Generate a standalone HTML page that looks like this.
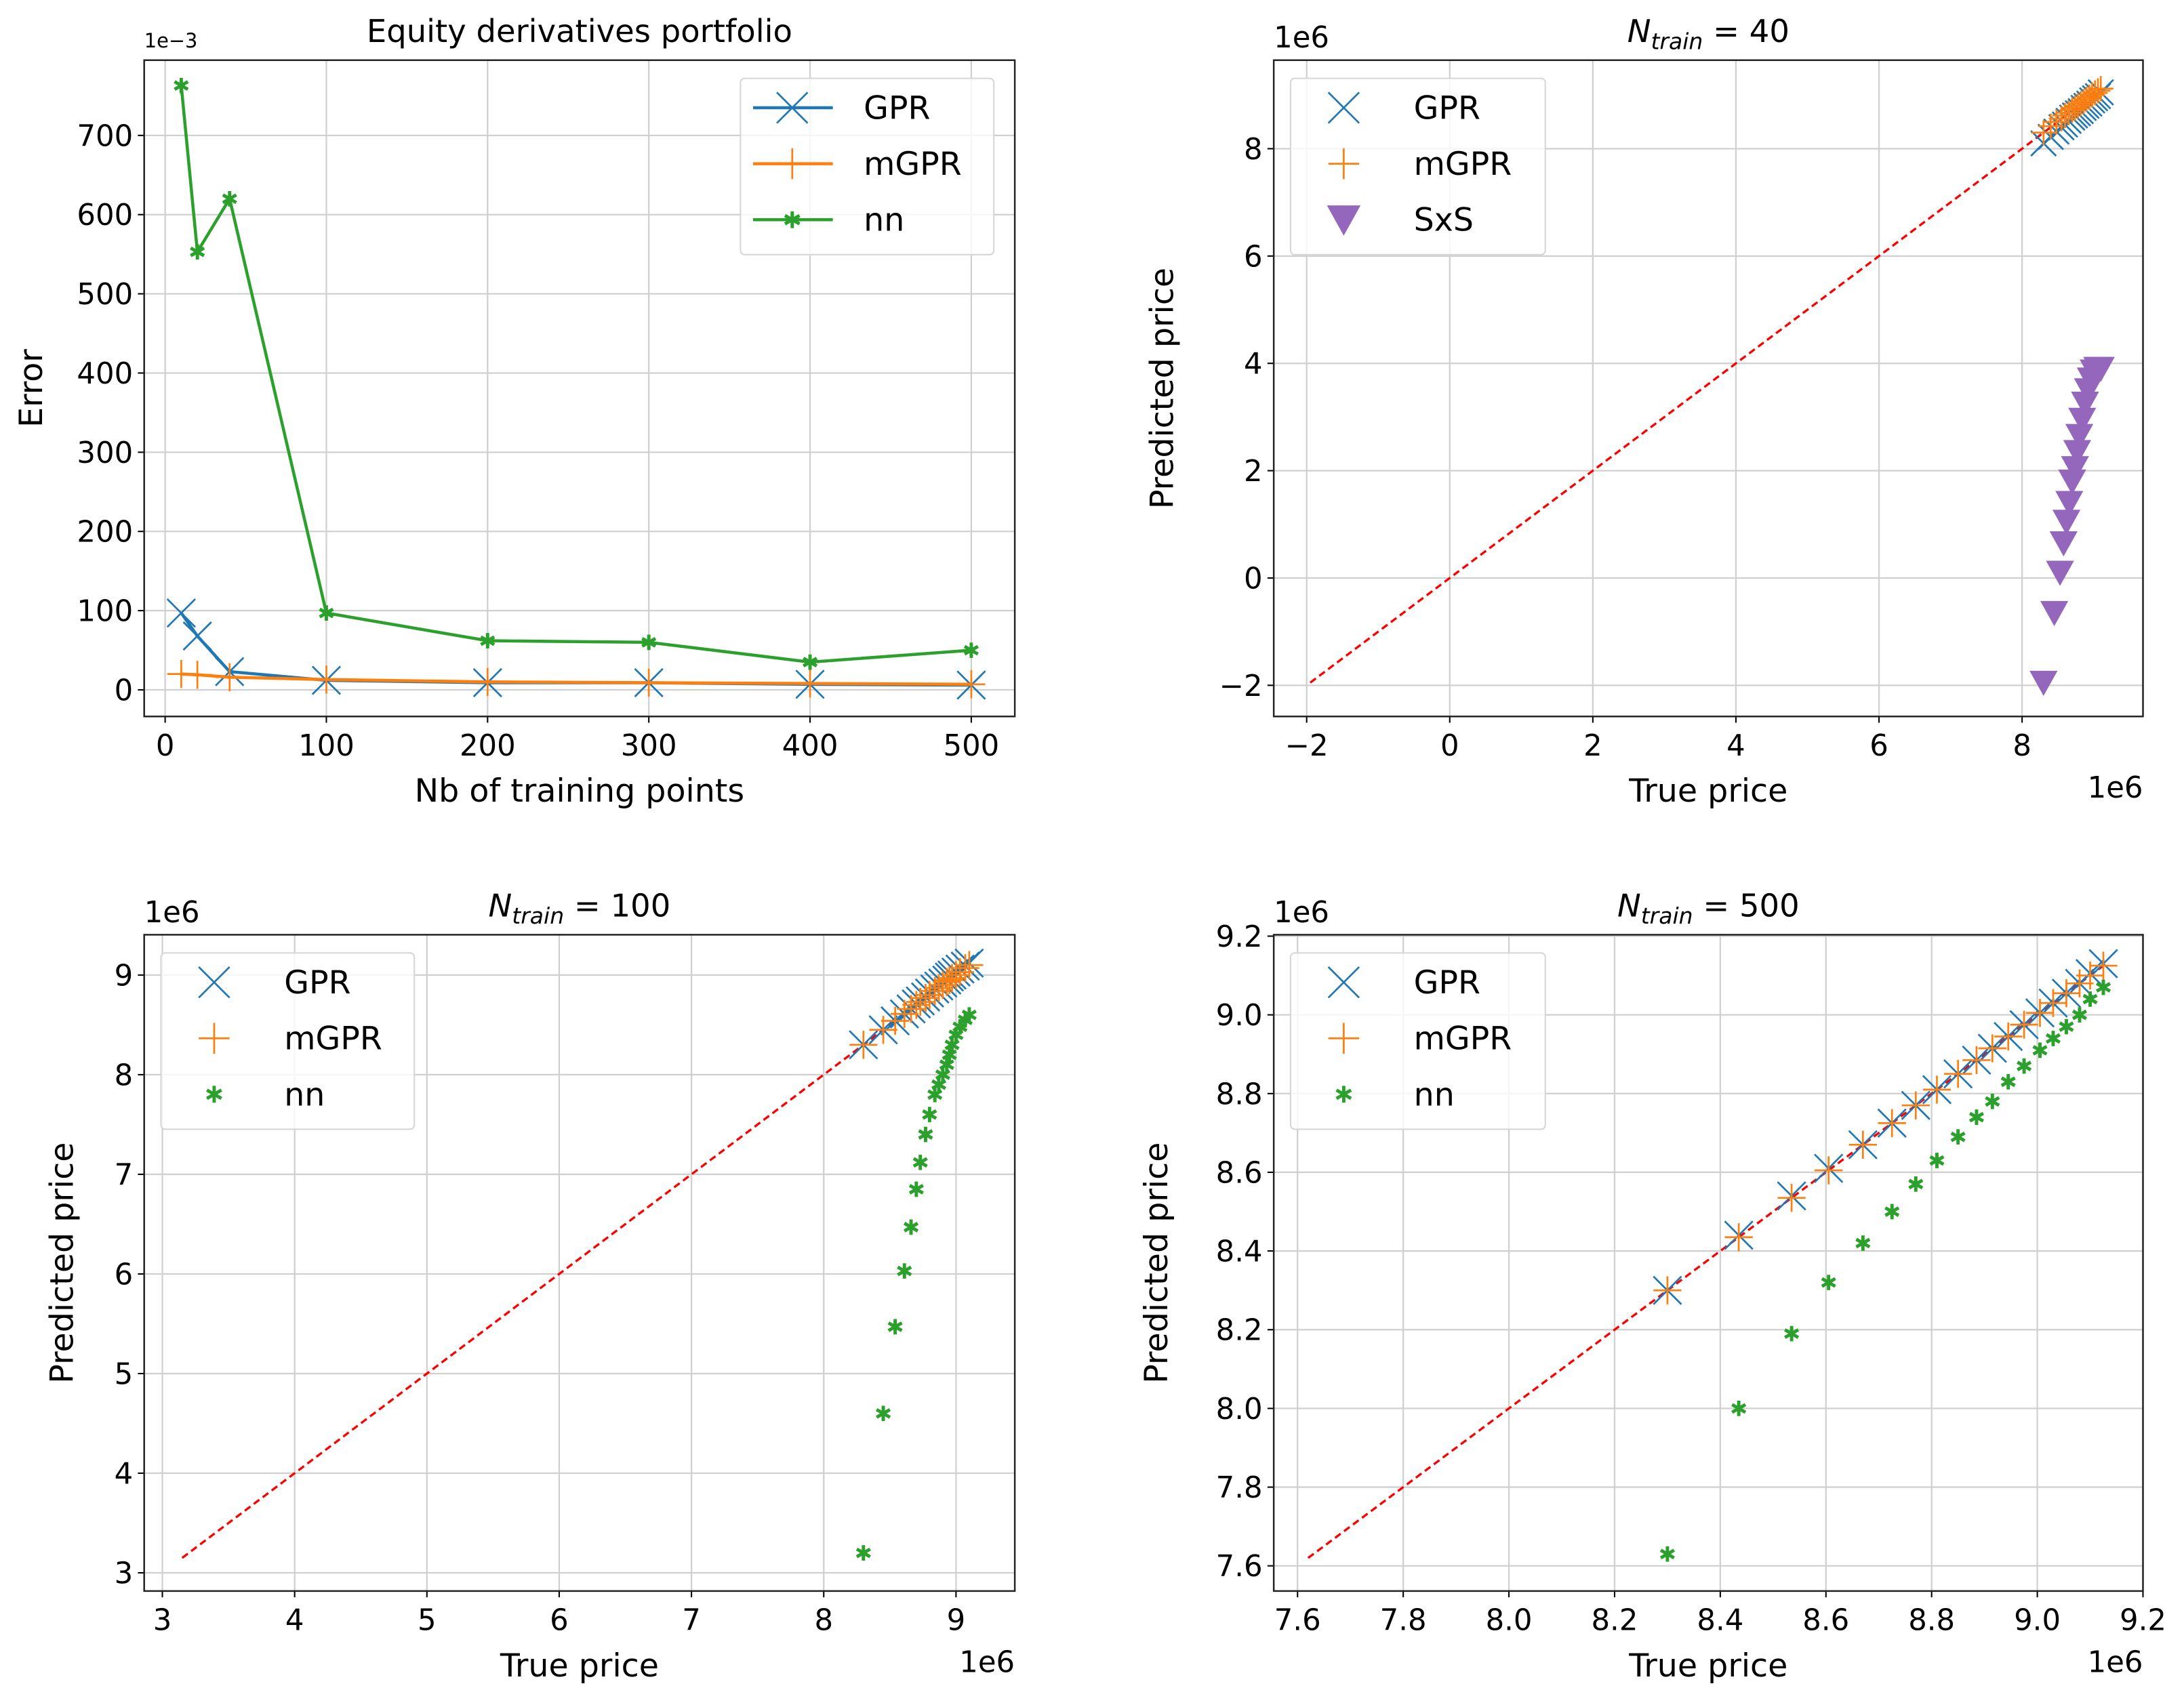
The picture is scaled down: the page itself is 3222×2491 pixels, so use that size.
<!DOCTYPE html>
<html><head><meta charset="utf-8"><style>
html,body{margin:0;padding:0;background:#fff;}
svg{display:block;}
text{font-family:"DejaVu Sans","Liberation Sans",sans-serif;fill:#000;}
</style></head><body>
<svg id="fig" xmlns="http://www.w3.org/2000/svg" width="3222" height="2491" viewBox="0 0 1560.3 1206.3"></svg>
<script>
// ---- Panel 1 data ----
const p1X = [10, 20, 40, 100, 200, 300, 400, 500];
const p1GPR = [97, 68, 23, 12, 9, 9, 7, 6];
const p1mGPR = [20, 19, 16, 13, 10, 9, 8, 7];
const p1NN = [763, 553, 620, 97, 62, 60, 35, 50];
const p1XTicks = [0, 100, 200, 300, 400, 500];
const p1YTicks = [0, 100, 200, 300, 400, 500, 600, 700];
// ---- Panel 2 data (N=40) ----
const p2True = [8.30, 8.40, 8.48, 8.55, 8.60, 8.65, 8.70, 8.74, 8.78, 8.82, 8.86, 8.90, 8.94, 8.98, 9.02, 9.06, 9.10];
const p2GPR = [8.10, 8.22, 8.32, 8.40, 8.45, 8.52, 8.58, 8.62, 8.66, 8.70, 8.76, 8.80, 8.84, 8.90, 8.94, 8.98, 9.05];
const p2mGPR = [8.30, 8.42, 8.50, 8.56, 8.62, 8.67, 8.72, 8.76, 8.80, 8.84, 8.88, 8.92, 8.96, 9.00, 9.04, 9.08, 9.12];
const p2SxSX = [8.30, 8.45, 8.53, 8.58, 8.62, 8.66, 8.70, 8.74, 8.77, 8.80, 8.84, 8.88, 8.92, 8.96, 9.00, 9.05, 9.10];
const p2SxSY = [-1.95, -0.65, 0.10, 0.65, 1.05, 1.40, 1.80, 2.05, 2.35, 2.65, 2.95, 3.25, 3.50, 3.70, 3.85, 3.90, 3.90];
const p2Ticks = [-2, 0, 2, 4, 6, 8];
// ---- Panel 3 data (N=100) ----
const p3True = [8.30, 8.45, 8.54, 8.61, 8.66, 8.70, 8.73, 8.77, 8.80, 8.84, 8.87, 8.90, 8.93, 8.95, 8.97, 9.00, 9.03, 9.07, 9.10];
const p3GPR = [8.30, 8.45, 8.54, 8.61, 8.66, 8.71, 8.74, 8.78, 8.82, 8.86, 8.89, 8.92, 8.95, 8.98, 9.00, 9.03, 9.06, 9.09, 9.12];
const p3mGPR = [8.30, 8.45, 8.54, 8.61, 8.66, 8.70, 8.73, 8.77, 8.80, 8.84, 8.87, 8.90, 8.93, 8.95, 8.97, 9.00, 9.03, 9.07, 9.10];
const p3NN = [3.20, 4.60, 5.47, 6.03, 6.47, 6.85, 7.12, 7.40, 7.60, 7.80, 7.90, 8.00, 8.10, 8.20, 8.30, 8.40, 8.48, 8.55, 8.60];
const p3Ticks = [3, 4, 5, 6, 7, 8, 9];
// ---- Panel 4 data (N=500) ----
const p4True = [8.30, 8.435, 8.535, 8.605, 8.67, 8.725, 8.77, 8.81, 8.85, 8.885, 8.915, 8.945, 8.975, 9.005, 9.03, 9.055, 9.08, 9.10, 9.125];
const p4GPR = [8.30, 8.44, 8.54, 8.61, 8.67, 8.725, 8.77, 8.81, 8.85, 8.885, 8.915, 8.945, 8.975, 9.005, 9.03, 9.055, 9.08, 9.105, 9.13];
const p4mGPR = [8.30, 8.435, 8.535, 8.605, 8.67, 8.725, 8.77, 8.81, 8.85, 8.885, 8.915, 8.945, 8.975, 9.005, 9.03, 9.055, 9.08, 9.10, 9.125];
const p4NN = [7.63, 8.00, 8.19, 8.32, 8.42, 8.50, 8.57, 8.63, 8.69, 8.74, 8.78, 8.83, 8.87, 8.91, 8.94, 8.97, 9.00, 9.04, 9.07];
const p4Ticks = [7.6, 7.8, 8.0, 8.2, 8.4, 8.6, 8.8, 9.0, 9.2];

const NS = "http://www.w3.org/2000/svg";
const fig = document.getElementById('fig');
const BLUE = '#1f77b4', ORANGE = '#ff7f0e', GREEN = '#2ca02c', PURPLE = '#9467bd';

function mk(tag, attrs, parent) {
  const e = document.createElementNS(NS, tag);
  for (const k in attrs) e.setAttribute(k, attrs[k]);
  (parent || fig).appendChild(e);
  return e;
}
function txt(s, x, y, size, anchor, parent, extra) {
  const t = mk('text', Object.assign({x: x, y: y, 'font-size': size, 'text-anchor': anchor || 'middle'}, extra || {}), parent);
  t.textContent = s;
  return t;
}
function fmt(v, dec) {
  return v.toFixed(dec || 0).replace('-', '\u2212');
}
function marker(g, type, cx, cy, color, s) {
  if (type === 'x') {
    mk('path', {d: `M${cx-s},${cy-s}L${cx+s},${cy+s}M${cx-s},${cy+s}L${cx+s},${cy-s}`, stroke: color, 'stroke-width': 1.3, fill: 'none'}, g);
  } else if (type === '+') {
    mk('path', {d: `M${cx-s},${cy}L${cx+s},${cy}M${cx},${cy-s}L${cx},${cy+s}`, stroke: color, 'stroke-width': 1.3, fill: 'none'}, g);
  } else if (type === '*') {
    let d = '';
    for (let i = 0; i < 3; i++) {
      const a = Math.PI / 2 + i * Math.PI / 3;
      d += `M${cx - s*Math.cos(a)},${cy - s*Math.sin(a)}L${cx + s*Math.cos(a)},${cy + s*Math.sin(a)}`;
    }
    mk('path', {d: d, stroke: color, 'stroke-width': 2.4, fill: 'none'}, g);
  } else if (type === 'v') {
    mk('path', {d: `M${cx-s},${cy-s*0.85}L${cx+s},${cy-s*0.85}L${cx},${cy+s*0.95}Z`, fill: color}, g);
  }
}

function panel(cfg) {
  const g = mk('g', {});
  
  
  const L = cfg.L, R = cfg.R, T = cfg.T, B = cfg.B;
  const sx = v => L + (v - cfg.xmin) / (cfg.xmax - cfg.xmin) * (R - L);
  const sy = v => B - (v - cfg.ymin) / (cfg.ymax - cfg.ymin) * (B - T);
  const grid = mk('g', {}, g);
  
  
  cfg.xticks.forEach(v => mk('line', {x1: sx(v), x2: sx(v), y1: T, y2: B, stroke: '#d0d0d0', 'stroke-width': 1.1}, grid));
  cfg.yticks.forEach(v => mk('line', {x1: L, x2: R, y1: sy(v), y2: sy(v), stroke: '#d0d0d0', 'stroke-width': 1.1}, grid));
  const xt = mk('g', {}, g);
  
  
  cfg.xticks.forEach(v => {
    mk('line', {x1: sx(v), x2: sx(v), y1: B, y2: B + 4.5, stroke: '#000', 'stroke-width': 1}, xt);
    txt(fmt(v, cfg.dec), sx(v), B + 28, 21, 'middle', xt);
  });
  const yt = mk('g', {}, g);
  
  
  cfg.yticks.forEach(v => {
    mk('line', {x1: L - 4.5, x2: L, y1: sy(v), y2: sy(v), stroke: '#000', 'stroke-width': 1}, yt);
    txt(fmt(v, cfg.dec), L - 8, sy(v) + 7.5, 21, 'end', yt);
  });
  const cid = 'clip-' + cfg.name;
  const cp = mk('clipPath', {id: cid}, g);
  mk('rect', {x: L, y: T, width: R - L, height: B - T}, cp);
  const plot = mk('g', {'clip-path': `url(#${cid})`}, g);
  
  
  cfg.draw(plot, sx, sy);
  const fr = mk('rect', {x: L, y: T, width: R - L, height: B - T, fill: 'none', stroke: '#222', 'stroke-width': 1.2}, g);
  
  
  const tt = mk('text', {x: (L + R) / 2, y: T - 13, 'font-size': 22.5, 'text-anchor': 'middle'}, g);
  
  
  if (cfg.ntrain) {
    const a = mk('tspan', {'font-style': 'italic'}, tt); a.textContent = 'N';
    const b = mk('tspan', {'font-style': 'italic', 'font-size': 16, dy: 5}, tt); b.textContent = 'train';
    const c = mk('tspan', {dy: -5}, tt); c.textContent = ' = ' + cfg.ntrain;
  } else tt.textContent = cfg.title;
  const xl = txt(cfg.xlabel, (L + R) / 2, B + 61, 23, 'middle', g);
  
  
  const ylx = cfg.ylx, yly = (T + B) / 2;
  const yl = txt(cfg.ylabel, ylx, yly, 23, 'middle', g, {transform: `rotate(-90 ${ylx} ${yly})`});
  
  
  const oy = txt(cfg.yoff, L, T - 9, cfg.yoffSize, 'start', g);
  
  
  if (cfg.xoff) {
    const ox = txt(cfg.xoff, R, B + 58, 21, 'end', g);
    
    
  }
  const lg = mk('g', {}, g);
  
  
  const lx = cfg.legX, ly = T + 13;
  mk('rect', {x: lx, y: ly, width: cfg.legW, height: 126, rx: 3, fill: '#fff', 'fill-opacity': 0.8, stroke: '#d6d6d6', 'stroke-width': 1}, lg);
  cfg.legend.forEach((e, i) => {
    const ent = mk('g', {}, lg);
    
    
    const yy = ly + 21 + i * 40;
    if (cfg.legLine) {
      mk('line', {x1: lx + 9, x2: lx + 66, y1: yy, y2: yy, stroke: e.c, 'stroke-width': 2.2}, ent);
      marker(ent, e.m, lx + 37, yy, e.c, e.m === '*' ? 6 : 11);
    } else {
      marker(ent, e.m, lx + 38, yy, e.c, e.m === '*' ? 6 : (e.m === 'v' ? 12 : 11));
    }
    txt(e.t, lx + 88, yy + 8, 23, 'start', ent);
  });
}

function scatter(plot, xs, ys, type, color, size, sx, sy, name) {
  const g = mk('g', {}, plot);
  
  
  xs.forEach((x, i) => marker(g, type, sx(x), sy(ys[i]), color, size));
}
function diag(plot, a, b, sx, sy) {
  const l = mk('line', {x1: sx(a), y1: sy(a), x2: sx(b), y2: sy(b), stroke: '#ff0000', 'stroke-width': 1.6, 'stroke-dasharray': '5,3'}, plot);
  
  
}

panel({name: 'error-panel', L: 103, R: 725, T: 43, B: 512, xmin: -13, xmax: 527, ymin: -33.6, ymax: 795, dec: 0,
  xticks: p1XTicks, yticks: p1YTicks, title: 'Equity derivatives portfolio', xlabel: 'Nb of training points', ylabel: 'Error',
  ylx: 30, yoff: '1e\u22123', yoffSize: 14, legX: 529, legW: 181, legLine: true,
  legend: [{t: 'GPR', m: 'x', c: BLUE}, {t: 'mGPR', m: '+', c: ORANGE}, {t: 'nn', m: '*', c: GREEN}],
  draw: (p, sx, sy) => {
    [[p1GPR, BLUE, 'x', 'gpr-series', 10], [p1mGPR, ORANGE, '+', 'mgpr-series', 10], [p1NN, GREEN, '*', 'nn-series', 5.5]].forEach(s => {
      const g = mk('g', {}, p);
      
      
      mk('polyline', {points: p1X.map((x, i) => sx(x) + ',' + sy(s[0][i])).join(' '), fill: 'none', stroke: s[1], 'stroke-width': 2.2}, g);
      p1X.forEach((x, i) => marker(g, s[2], sx(x), sy(s[0][i]), s[1], s[4]));
    });
  }});

panel({name: 'ntrain-40-panel', L: 910, R: 1531, T: 43, B: 512, xmin: -2.46, xmax: 9.69, ymin: -2.58, ymax: 9.65, dec: 0,
  xticks: p2Ticks, yticks: p2Ticks, ntrain: 40, xlabel: 'True price', ylabel: 'Predicted price',
  ylx: 838, yoff: '1e6', yoffSize: 21, xoff: '1e6', legX: 922, legW: 182, legLine: false,
  legend: [{t: 'GPR', m: 'x', c: BLUE}, {t: 'mGPR', m: '+', c: ORANGE}, {t: 'SxS', m: 'v', c: PURPLE}],
  draw: (p, sx, sy) => {
    diag(p, -1.95, 9.1, sx, sy);
    scatter(p, p2True, p2GPR, 'x', BLUE, 9, sx, sy, 'gpr-points');
    scatter(p, p2True, p2mGPR, '+', ORANGE, 9, sx, sy, 'mgpr-points');
    scatter(p, p2SxSX, p2SxSY, 'v', PURPLE, 10, sx, sy, 'sxs-points');
  }});

panel({name: 'ntrain-100-panel', L: 103, R: 725, T: 668, B: 1137, xmin: 3 - 13 / 94.5, xmax: 3 + 609 / 94.5, ymin: 3 - 13 / 71.2, ymax: 3 + 456 / 71.2, dec: 0,
  xticks: p3Ticks, yticks: p3Ticks, ntrain: 100, xlabel: 'True price', ylabel: 'Predicted price',
  ylx: 52, yoff: '1e6', yoffSize: 21, xoff: '1e6', legX: 115, legW: 181, legLine: false,
  legend: [{t: 'GPR', m: 'x', c: BLUE}, {t: 'mGPR', m: '+', c: ORANGE}, {t: 'nn', m: '*', c: GREEN}],
  draw: (p, sx, sy) => {
    diag(p, 3.15, 9.1, sx, sy);
    scatter(p, p3True, p3GPR, 'x', BLUE, 10, sx, sy, 'gpr-points');
    scatter(p, p3True, p3mGPR, '+', ORANGE, 10, sx, sy, 'mgpr-points');
    scatter(p, p3True, p3NN, '*', GREEN, 5.5, sx, sy, 'nn-points');
  }});

panel({name: 'ntrain-500-panel', L: 910, R: 1531, T: 668, B: 1137, xmin: 7.6 - 17 / 377.5, xmax: 7.6 + 604 / 377.5, ymin: 7.6 - 18 / 281.25, ymax: 7.6 + 451 / 281.25, dec: 1,
  xticks: p4Ticks, yticks: p4Ticks, ntrain: 500, xlabel: 'True price', ylabel: 'Predicted price',
  ylx: 834, yoff: '1e6', yoffSize: 21, xoff: '1e6', legX: 922, legW: 182, legLine: false,
  legend: [{t: 'GPR', m: 'x', c: BLUE}, {t: 'mGPR', m: '+', c: ORANGE}, {t: 'nn', m: '*', c: GREEN}],
  draw: (p, sx, sy) => {
    diag(p, 7.62, 9.13, sx, sy);
    scatter(p, p4True, p4GPR, 'x', BLUE, 10, sx, sy, 'gpr-points');
    scatter(p, p4True, p4mGPR, '+', ORANGE, 10, sx, sy, 'mgpr-points');
    scatter(p, p4True, p4NN, '*', GREEN, 5.5, sx, sy, 'nn-points');
  }});
</script>
</body></html>
